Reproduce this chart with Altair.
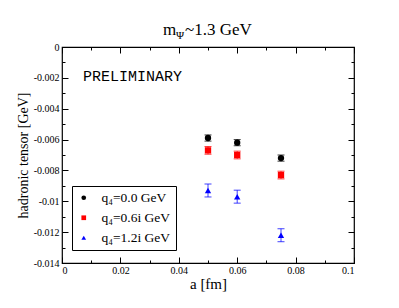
import altair as alt
import pandas as pd

a_vals = [0.05, 0.06, 0.075]
series_names = ["q₄=0.0 GeV", "q₄=0.6i GeV", "q₄=1.2i GeV"]
black_vals = [-0.0059, -0.0062, -0.0072]
black_err = [0.0002, 0.0002, 0.0002]
red_vals = [-0.0067, -0.0070, -0.0083]
red_err = [0.00025, 0.00025, 0.00025]
blue_vals = [-0.0093, -0.0097, -0.0122]
blue_err = [0.00042, 0.00042, 0.00042]
colors = ["black", "#ff0000", "#0000ff"]
shapes = ["circle", "square", "triangle-up"]

x_major = [0, 0.02, 0.04, 0.06, 0.08, 0.1]
x_minor = [0.01, 0.03, 0.05, 0.07, 0.09]
y_major = [0, -0.002, -0.004, -0.006, -0.008, -0.01, -0.012, -0.014]
y_minor = [-0.001, -0.003, -0.005, -0.007, -0.009, -0.011, -0.013]

rows = []
for name, vals, errs in zip(series_names, [black_vals, red_vals, blue_vals], [black_err, red_err, blue_err]):
    for a, v, e in zip(a_vals, vals, errs):
        rows.append({"a": a, "v": v, "lo": v - e, "hi": v + e, "s": name})
df = pd.DataFrame(rows)

FONT = "Liberation Serif"
xs = alt.Scale(domain=[0, 0.1], nice=False, zero=False)
ys = alt.Scale(domain=[-0.014, 0], nice=False, zero=False)
cs = alt.Scale(domain=series_names, range=colors)
ss = alt.Scale(domain=series_names, range=shapes)

base = alt.Chart(df)

def tick_layer(xorient, yorient, xvals, yvals, size):
    return base.mark_point(opacity=0).encode(
        x=alt.X("a:Q", scale=xs, axis=alt.Axis(orient=xorient, values=xvals, labels=False, domain=False,
                                               grid=False, title=None, tickSize=size, offset=-size,
                                               tickColor="black", tickWidth=1)),
        y=alt.Y("v:Q", scale=ys, axis=alt.Axis(orient=yorient, values=yvals, labels=False, domain=False,
                                               grid=False, title=None, tickSize=size, offset=-size,
                                               tickColor="black", tickWidth=1)),
    )

leg = alt.Legend(
    title=None, orient="none", legendX=10, legendY=139, strokeColor="black", fillColor="white",
    padding=5, labelFont=FONT, labelFontSize=13.5, symbolSize=22, rowPadding=5, symbolStrokeWidth=0,
    labelOffset=11, labelColor="black")

points = base.mark_point(filled=True, size=40, opacity=1).encode(
    x=alt.X("a:Q", scale=xs, axis=alt.Axis(orient="bottom", values=x_major, ticks=False, domain=False, grid=False,
                                           title="a [fm]", titleFont=FONT, titleFontSize=15, titleFontWeight="normal",
                                           labelFont=FONT, labelFontSize=10, labelPadding=2, titlePadding=1,
                                           labelColor="black", titleColor="black",
                                           labelExpr="'' + datum.value")),
    y=alt.Y("v:Q", scale=ys, axis=alt.Axis(orient="left", values=y_major, ticks=False, domain=False, grid=False,
                                           title="hadronic tensor [GeV]", titleFont=FONT, titleFontSize=14,
                                           titleFontWeight="normal", labelFont=FONT, labelFontSize=10,
                                           labelPadding=3, titlePadding=3,
                                           labelColor="black", titleColor="black",
                                           labelExpr="'' + datum.value")),
    color=alt.Color("s:N", scale=cs, legend=leg),
    shape=alt.Shape("s:N", scale=ss, legend=leg),
)

rules = base.mark_rule(strokeWidth=1, opacity=0.75).encode(
    x=alt.X("a:Q", scale=xs, axis=None), y=alt.Y("lo:Q", scale=ys, axis=None), y2="hi:Q",
    color=alt.Color("s:N", scale=cs, legend=None),
)
caps_lo = base.mark_tick(orient="horizontal", size=7, thickness=1, opacity=0.75).encode(
    x=alt.X("a:Q", scale=xs, axis=None), y=alt.Y("lo:Q", scale=ys, axis=None),
    color=alt.Color("s:N", scale=cs, legend=None),
)
caps_hi = base.mark_tick(orient="horizontal", size=7, thickness=1, opacity=0.75).encode(
    x=alt.X("a:Q", scale=xs, axis=None), y=alt.Y("hi:Q", scale=ys, axis=None),
    color=alt.Color("s:N", scale=cs, legend=None),
)

def txt(text, x, y, size, font=FONT, align="left"):
    return alt.Chart(pd.DataFrame({"t": [text]})).mark_text(
        font=font, fontSize=size, align=align, baseline="alphabetic", color="black").encode(
        text="t:N", x=alt.value(x), y=alt.value(y))

title_m = txt("m", 101, -12, 17)
title_psi = txt("Ψ", 114, -8, 11)
title_rest = txt("~1.3 GeV", 123, -12, 17)
prelim = txt("PRELIMINARY", 21, 34, 15, font="Liberation Mono")

chart = alt.layer(
    points,
    tick_layer("bottom", "left", x_major, y_major, 6),
    tick_layer("bottom", "left", x_minor, y_minor, 3),
    tick_layer("top", "right", x_major, y_major, 6),
    tick_layer("top", "right", x_minor, y_minor, 3),
    rules, caps_lo, caps_hi,
    title_m, title_psi, title_rest, prelim,
).resolve_axis(x="independent", y="independent").resolve_scale(color="shared", shape="shared").properties(
    width=292, height=216, autosize=alt.AutoSizeParams(type="none"),
    padding={"left": 54, "top": 39, "right": 28, "bottom": 36},
).configure_view(stroke="black", strokeWidth=1.2)

chart.save("out.html", embed_options={"renderer": "svg", "actions": False})
